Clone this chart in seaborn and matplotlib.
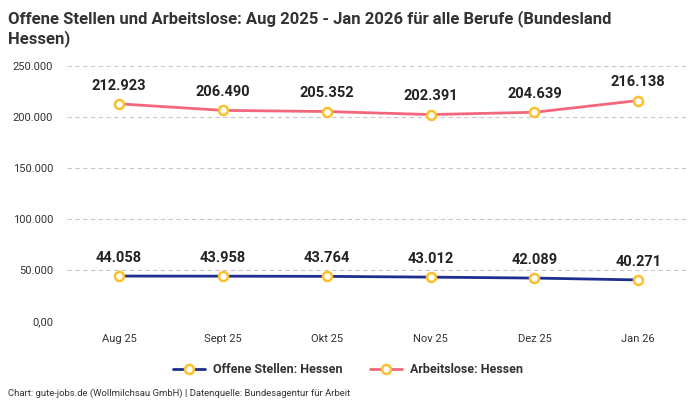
import pandas as pd
import seaborn as sns
import matplotlib.pyplot as plt

months = ['Aug 25', 'Sept 25', 'Okt 25', 'Nov 25', 'Dez 25', 'Jan 26']
offene_stellen = [44058, 43958, 43764, 43012, 42089, 40271]
arbeitslose = [212923, 206490, 205352, 202391, 204639, 216138]
series_names = ['Offene Stellen: Hessen', 'Arbeitslose: Hessen']
y_ticks = [0, 50000, 100000, 150000, 200000, 250000]
y_labels = ['0,00', '50.000', '100.000', '150.000', '200.000', '250.000']


def de_fmt(v):
    return f'{v:,}'.replace(',', '.')


sns.set_style('white')
plt.rcParams['font.family'] = ['Roboto', 'DejaVu Sans']

df = pd.DataFrame({
    'Monat': months * 2,
    'Wert': offene_stellen + arbeitslose,
    'Serie': [series_names[0]] * len(months) + [series_names[1]] * len(months),
})

fig = plt.figure(figsize=(7, 4), dpi=100)
ax = fig.add_axes([0.096, 0.1975, 0.89, 0.6375])

palette = {series_names[0]: '#1f2d8f', series_names[1]: '#f2677c'}
sns.lineplot(data=df, x='Monat', y='Wert', hue='Serie', palette=palette,
             marker='o', markersize=6.5, markerfacecolor='white',
             markeredgecolor='#fbc02d', markeredgewidth=1.8,
             linewidth=2, ax=ax, sort=False)

for vals in (offene_stellen, arbeitslose):
    for i, v in enumerate(vals):
        ax.annotate(de_fmt(v), (i, v), xytext=(0, 8), textcoords='offset points',
                    ha='center', va='bottom', fontsize=10.5, fontweight='bold',
                    color='#222222')

ax.set_xlim(-0.5, len(months) - 0.5)
ax.set_ylim(0, 250000)
ax.set_yticks(y_ticks)
ax.set_yticklabels(y_labels)
ax.yaxis.grid(True, linestyle=(0, (4, 3)), color='#c8c8c8', linewidth=0.8)
ax.set_axisbelow(True)
ax.tick_params(axis='both', length=0, labelsize=8, colors='#333333')
ax.tick_params(axis='x', pad=9)
ax.tick_params(axis='y', pad=10)
ax.set_xlabel('')
ax.set_ylabel('')
for s in ax.spines.values():
    s.set_visible(False)
ax.patch.set_alpha(0)

leg = ax.legend(loc='center', bbox_to_anchor=(0.45, -0.192), ncol=2, frameon=False,
                fontsize=9, handlelength=2.6, columnspacing=2.2, handletextpad=0.6)
for t in leg.get_texts():
    t.set_fontweight('bold')
    t.set_color('#333333')

fig.text(0.011, 0.975, 'Offene Stellen und Arbeitslose: Aug 2025 - Jan 2026 für alle Berufe (Bundesland\nHessen)',
         ha='left', va='top', fontsize=12, fontweight='bold', color='#333333', linespacing=1.25)
fig.text(0.011, 0.004, 'Chart: gute-jobs.de (Wollmilchsau GmbH) | Datenquelle: Bundesagentur für Arbeit',
         ha='left', va='bottom', fontsize=6.8, color='#333333')

fig.savefig('out.png', dpi=100)
